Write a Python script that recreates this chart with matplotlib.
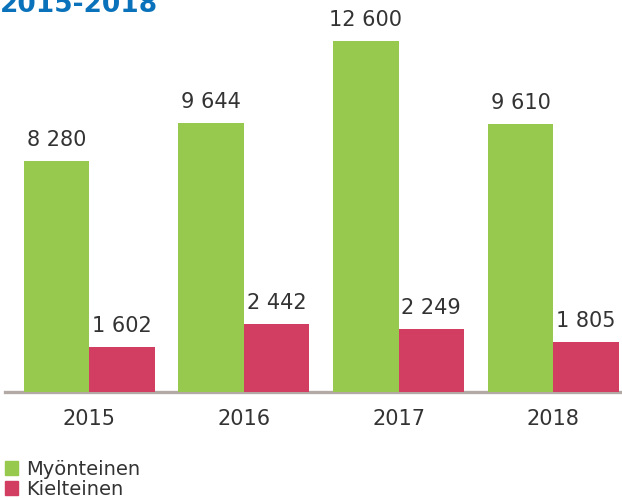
import matplotlib
matplotlib.use('Agg')
import matplotlib.pyplot as plt
import numpy as np
from matplotlib.patches import Patch

# Data
years = ['2015', '2016', '2017', '2018']
myonteinen = [8280, 9644, 12600, 9610]
kielteinen = [1602, 2442, 2249, 1805]
series_names = ['Myönteinen', 'Kielteinen']

green = '#97c94f'
red = '#d23e61'
txt = '#333333'

plt.rcParams['font.family'] = ['DejaVu Sans']

fig = plt.figure(figsize=(6.22, 5.0), dpi=100)
ax = fig.add_axes([5 / 622, 108 / 500, 617 / 622, 392 / 500])

x = np.arange(len(years))
w = 0.423
b1 = ax.bar(x - w / 2, myonteinen, w, color=green, zorder=3)
b2 = ax.bar(x + w / 2, kielteinen, w, color=red, zorder=3)

def fmt(v):
    return '{:,}'.format(v).replace(',', ' ')

for bars, vals in ((b1, myonteinen), (b2, kielteinen)):
    for r, v in zip(bars, vals):
        ax.annotate(fmt(v), (r.get_x() + r.get_width() / 2, v),
                    xytext=(0, 8), textcoords='offset points',
                    ha='center', va='bottom', fontsize=15, color=txt)

ax.set_xlim(-0.543, 3.443)
ax.set_ylim(0, 14072)
ax.set_yticks([])
ax.set_xticks(x)
ax.set_xticklabels(years, fontsize=15, color=txt)
ax.tick_params(axis='x', length=0, pad=12)
for s in ['top', 'right', 'left']:
    ax.spines[s].set_visible(False)
ax.spines['bottom'].set_color('#b3aaa6')
ax.spines['bottom'].set_linewidth(2.4)
ax.spines['bottom'].set_zorder(2)

# title (cut off at the top in the original)
fig.text(0.0, 488 / 500, '2015-2018', fontsize=19, fontweight='bold',
         color='#0a72ba', ha='left', va='baseline')

handles = [Patch(color=green), Patch(color=red)]
fig.legend(handles, series_names, loc='lower left', bbox_to_anchor=(0.006, 0.0),
           frameon=False, fontsize=14, handlelength=0.7, handleheight=0.7,
           handletextpad=0.4, labelspacing=0.05, borderpad=0.05, borderaxespad=0,
           labelcolor=txt)

fig.savefig('out.png', dpi=100)
